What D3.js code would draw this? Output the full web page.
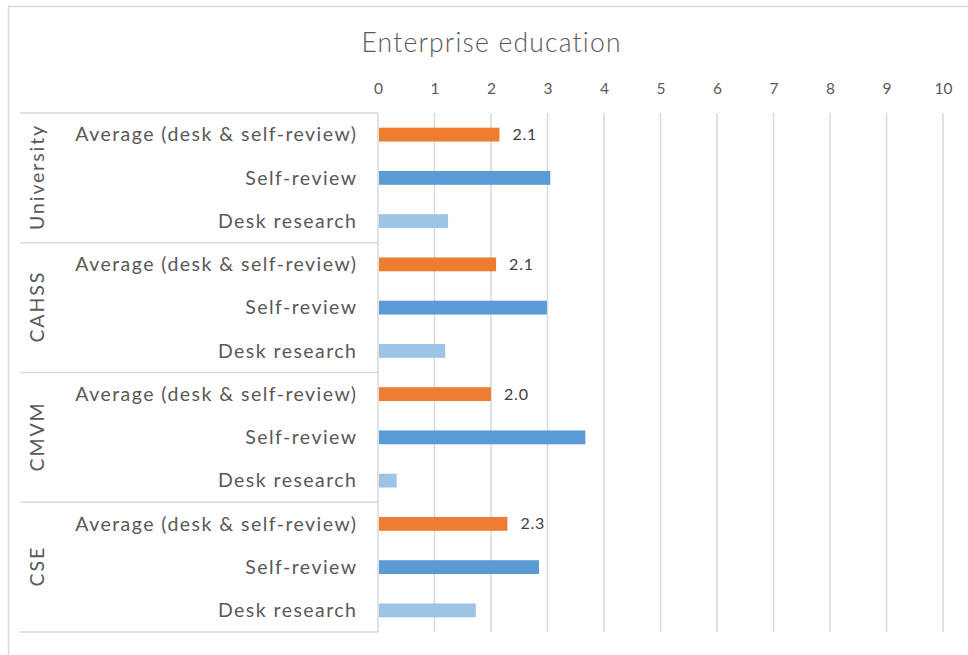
<!DOCTYPE html>
<html>
<head>
<meta charset="utf-8">
<script src="https://cdn.jsdelivr.net/npm/d3@7"></script>
<style>
  html, body { margin: 0; padding: 0; background: #fff; }
  svg { display: block; font-family: Lato, "Open Sans", sans-serif; }
</style>
</head>
<body>
<svg id="chart" width="968" height="655"></svg>
<script>
// Chart data
const groups = ["University", "CAHSS", "CMVM", "CSE"];
const measures = ["Average (desk & self-review)", "Self-review", "Desk research"];
const averageValues = [2.15, 2.09, 2.00, 2.29];
const selfReviewValues = [3.05, 2.99, 3.67, 2.85];
const deskResearchValues = [1.24, 1.19, 0.33, 1.73];
const tickValues = [0, 1, 2, 3, 4, 5, 6, 7, 8, 9, 10];
const title = "Enterprise education";

const seriesColors = ["#ED7D31", "#5B9BD5", "#9DC3E6"];
const seriesValues = [averageValues, selfReviewValues, deskResearchValues];

// Flatten into rows, one per bar
const rows = [];
groups.forEach((g, gi) => {
  measures.forEach((m, mi) => {
    rows.push({ group: g, measure: m, mi, value: seriesValues[mi][gi], key: g + "|" + m });
  });
});

const svg = d3.select("#chart");
const W = 968, H = 655;
const plot = { left: 378, right: 943, top: 113, bottom: 632 };
const tableLeft = 20;

// Outer chart frame
svg.append("rect")
  .attr("x", 8.5).attr("y", 6.5)
  .attr("width", W + 10).attr("height", H + 10)
  .attr("fill", "#fff").attr("stroke", "#d9d9d9").attr("stroke-width", 1.5);

const x = d3.scaleLinear().domain([0, 10]).range([plot.left, plot.right]);
const y = d3.scaleBand().domain(rows.map(r => r.key))
  .range([plot.top, plot.bottom]).paddingInner(0.68).paddingOuter(0.34);
const gy = d3.scaleBand().domain(groups).range([plot.top, plot.bottom]);

// Title
const titleSpacing = 1.2;
svg.append("text")
  .attr("x", 491 + titleSpacing / 2).attr("y", 52)
  .attr("text-anchor", "middle")
  .attr("font-size", 26.5).attr("font-weight", 300)
  .attr("letter-spacing", titleSpacing)
  .attr("fill", "#595959")
  .text(title);

// Value axis on top with vertical gridlines
const xAxis = d3.axisTop(x).tickValues(tickValues).tickSize(0).tickPadding(0).tickFormat(d3.format("d"));
const axisG = svg.append("g").attr("transform", `translate(0, 94)`).call(xAxis);
axisG.select(".domain").remove();
axisG.selectAll("text").attr("font-size", 15.5).attr("fill", "#595959")
  .attr("font-family", "Lato, 'Open Sans', sans-serif");

svg.append("g").selectAll("line")
  .data(tickValues.slice(1))
  .join("line")
  .attr("x1", d => x(d)).attr("x2", d => x(d))
  .attr("y1", plot.top).attr("y2", plot.bottom)
  .attr("stroke", "#d9d9d9").attr("stroke-width", 1.5);

// Category table lines
svg.append("g").selectAll("line")
  .data(groups.map(g => gy(g)).concat([plot.bottom]))
  .join("line")
  .attr("x1", tableLeft).attr("x2", plot.left)
  .attr("y1", d => d).attr("y2", d => d)
  .attr("stroke", "#d9d9d9").attr("stroke-width", 1.5);

svg.append("line")
  .attr("x1", plot.left).attr("x2", plot.left)
  .attr("y1", plot.top).attr("y2", plot.bottom)
  .attr("stroke", "#d9d9d9").attr("stroke-width", 1.5);

// Bars
svg.append("g").selectAll("rect")
  .data(rows)
  .join("rect")
  .attr("x", x(0) + 1)
  .attr("y", d => y(d.key))
  .attr("width", d => x(d.value) - x(0) - 1)
  .attr("height", y.bandwidth())
  .attr("fill", d => seriesColors[d.mi]);

// Data labels on the average bars
svg.append("g").selectAll("text")
  .data(rows.filter(r => r.mi === 0))
  .join("text")
  .attr("x", d => x(d.value) + 13)
  .attr("y", d => y(d.key) + y.bandwidth() / 2)
  .attr("dy", "0.35em")
  .attr("font-size", 16).attr("letter-spacing", 0.8).attr("fill", "#404040")
  .text(d => d3.format(".1f")(d.value));

// Measure labels
const labelSpacing = 1.45;
svg.append("g").selectAll("text")
  .data(rows)
  .join("text")
  .attr("x", 356 + labelSpacing)
  .attr("y", d => y(d.key) + y.bandwidth() / 2)
  .attr("dy", "0.35em")
  .attr("text-anchor", "end")
  .attr("font-size", 19.5).attr("letter-spacing", labelSpacing).attr("fill", "#595959")
  .text(d => d.measure);

// Group labels, rotated
const groupSpacing = 1.9;
svg.append("g").selectAll("text")
  .data(groups)
  .join("text")
  .attr("transform", d => `translate(37, ${gy(d) + gy.bandwidth() / 2}) rotate(-90)`)
  .attr("x", groupSpacing / 2)
  .attr("dy", "0.35em")
  .attr("text-anchor", "middle")
  .attr("font-size", 19.5).attr("letter-spacing", groupSpacing).attr("fill", "#595959")
  .text(d => d);
</script>
</body>
</html>
